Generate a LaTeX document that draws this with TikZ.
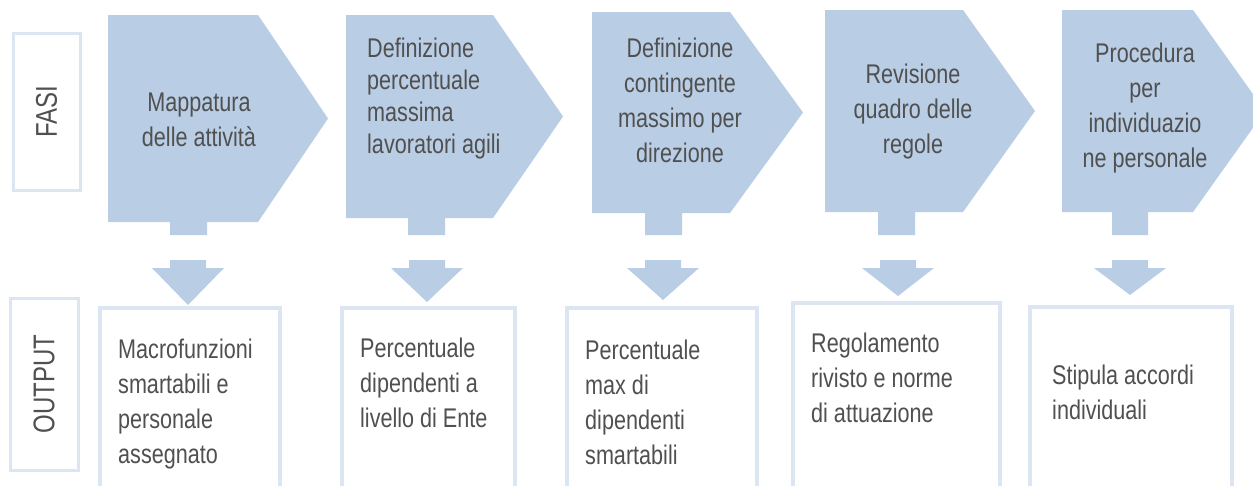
\documentclass[tikz,border=0pt]{standalone}
\usepackage{fontspec}
\setmainfont[FakeStretch=0.8]{Liberation Sans}
\definecolor{phaseblue}{HTML}{B9CDE5}
\definecolor{boxborder}{HTML}{DCE6F2}
\definecolor{txtgray}{HTML}{505050}
\begin{document}
\begin{tikzpicture}[x=1pt,y=-1pt,
  phasefill/.style={fill=phaseblue,draw=none},
  txt/.style={text=txtgray,inner sep=0pt,font=\fontsize{27}{35}\selectfont},
  txtb/.style={text=txtgray,inner sep=0pt,font=\fontsize{27}{32}\selectfont},
  lbl/.style={text=txtgray,inner sep=0pt,font=\fontsize{30}{36}\selectfont,rotate=90},
  outbox/.style={draw=boxborder,line width=4pt,fill=white},
  lblbox/.style={draw=boxborder,line width=3pt,fill=white}]
\clip (0,0) rectangle (1253,485);
\fill[white] (0,0) rectangle (1253,485);

% label boxes
\draw[lblbox] (13,33) rectangle (80,190);
\node[lbl] (fasi) at (46.5,111.5) {FASI};
\draw[lblbox] (10,298) rectangle (78,470);
\node[lbl] (output) at (44,384) {OUTPUT};

% phases
\fill[phasefill] (108,15) -- (258,15) -- (328,118.5) -- (258,222) -- (207,222) -- (207,235) -- (170,235) -- (170,222) -- (108,222) -- cycle;
\fill[phasefill] (346,15) -- (493,15) -- (563,116.5) -- (493,218) -- (445,218) -- (445,235) -- (408,235) -- (408,218) -- (346,218) -- cycle;
\fill[phasefill] (592,12) -- (730,12) -- (803,112.5) -- (730,213) -- (682,213) -- (682,235) -- (645,235) -- (645,213) -- (592,213) -- cycle;
\fill[phasefill] (825,10) -- (963,10) -- (1035,111) -- (963,212) -- (915,212) -- (915,235) -- (878,235) -- (878,212) -- (825,212) -- cycle;
\fill[phasefill] (1062,10) -- (1193,10) -- (1265,111) -- (1193,212) -- (1148,212) -- (1148,235) -- (1112,235) -- (1112,212) -- (1062,212) -- cycle;

\node[txt,align=center] (p1) at (199,120) {Mappatura\\delle attività};
\node[txtb,align=left,anchor=west] (p2) at (367,99) {Definizione\\percentuale\\massima\\lavoratori agili};
\node[txt,align=center] (p3) at (680,100) {Definizione\\contingente\\massimo per\\direzione};
\node[txt,align=center] (p4) at (913,112) {Revisione\\quadro delle\\regole};
\node[txt,align=center] (p5) at (1145,108) {Procedura\\per\\individuazio\\ne personale};

% down arrows
\foreach \c/\t in {188/305, 427/302, 663/300, 898/296, 1130/295}{
  \fill[phasefill] (\c-18,260) -- (\c+18,260) -- (\c+18,268) -- (\c+36,268) -- (\c,\t) -- (\c-36,268) -- (\c-18,268) -- cycle;
}

% output boxes
\draw[outbox] (100,308) rectangle (280,490);
\draw[outbox] (342,308) rectangle (515,490);
\draw[outbox] (567,308) rectangle (757,490);
\draw[outbox] (793,303) rectangle (1000,490);
\draw[outbox] (1030,307) rectangle (1232,490);

\node[txt,align=left,anchor=west] (o1) at (118,404) {Macrofunzioni\\smartabili e\\personale\\assegnato};
\node[txt,align=left,anchor=west] (o2) at (360,383) {Percentuale\\dipendenti a\\livello di Ente};
\node[txt,align=left,anchor=west] (o3) at (585,402) {Percentuale\\max di\\dipendenti\\smartabili};
\node[txt,align=left,anchor=west] (o4) at (811,378) {Regolamento\\rivisto e norme\\di attuazione};
\node[txt,align=left,anchor=west] (o5) at (1052,392) {Stipula accordi\\individuali};
\end{tikzpicture}
\end{document}
